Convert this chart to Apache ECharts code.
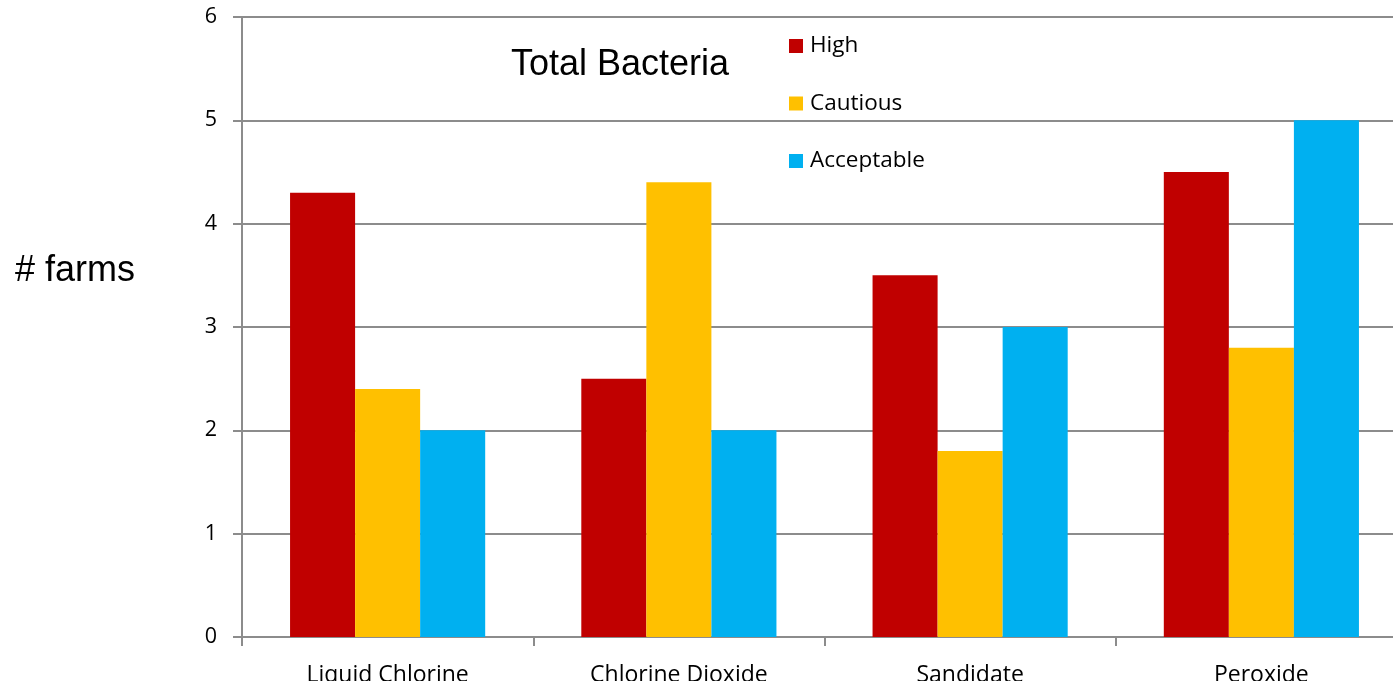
<!DOCTYPE html>
<html>
<head>
<meta charset="utf-8">
<script src="https://cdn.jsdelivr.net/npm/echarts@6/dist/echarts.min.js"></script>
<style>
  html, body { margin: 0; padding: 0; background: #fff; }
  #chart { width: 1393px; height: 681px; }
</style>
</head>
<body>
<div id="chart"></div>
<script>
// Sanitizer types and farm counts per risk level
const categories = ['Liquid Chlorine', 'Chlorine Dioxide', 'Sandidate', 'Peroxide'];
const highValues = [4.3, 2.5, 3.5, 4.5];
const cautiousValues = [2.4, 4.4, 1.8, 2.8];
const acceptableValues = [2.0, 2.0, 3.0, 5.0];
const yTicks = [0, 1, 2, 3, 4, 5, 6];

const labelFont = '"Open Sans", "Noto Sans", sans-serif';
const gridColor = '#8c8c8c';

const chart = echarts.init(document.getElementById('chart'), null, { renderer: 'canvas' });

chart.setOption({
  animation: false,
  backgroundColor: '#ffffff',
  title: {
    text: 'Total Bacteria',
    left: 511,
    top: 47,
    padding: 0,
    textStyle: {
      fontFamily: '"Liberation Sans", Arial, sans-serif',
      fontSize: 36,
      fontWeight: 'normal',
      color: '#000'
    }
  },
  legend: {
    orient: 'vertical',
    left: 789,
    top: 33,
    padding: 0,
    itemWidth: 14,
    itemHeight: 14,
    itemGap: 31.5,
    icon: 'rect',
    textStyle: {
      fontFamily: labelFont,
      fontSize: 22.5,
      color: '#000',
      lineHeight: 26,
      padding: [0, 0, 0, 2]
    },
    data: ['High', 'Cautious', 'Acceptable']
  },
  graphic: [{
    type: 'text',
    left: 15,
    top: 253,
    style: {
      text: '# farms',
      font: '36px "Liberation Sans", Arial, sans-serif',
      fill: '#000'
    }
  }],
  grid: {
    left: 242,
    top: 17,
    width: 1165,
    bottom: 44,
    containLabel: false,
    outerBoundsMode: 'none'
  },
  xAxis: {
    type: 'category',
    data: categories,
    axisLine: { lineStyle: { color: gridColor, width: 2 } },
    axisTick: { show: true, length: 9, lineStyle: { color: gridColor, width: 2 } },
    axisLabel: {
      margin: 27,
      fontFamily: labelFont,
      fontSize: 23,
      color: '#000'
    }
  },
  yAxis: {
    type: 'value',
    min: yTicks[0],
    max: yTicks[yTicks.length - 1],
    interval: 1,
    axisLine: { show: true, lineStyle: { color: gridColor, width: 2 } },
    axisTick: { show: true, length: 9, lineStyle: { color: gridColor, width: 2 } },
    splitLine: { show: true, lineStyle: { color: gridColor, width: 2 } },
    axisLabel: {
      margin: 25,
      fontFamily: labelFont,
      fontSize: 21.5,
      color: '#000'
    }
  },
  series: [
    {
      name: 'High',
      type: 'bar',
      data: highValues,
      itemStyle: { color: '#c00000' },
      barGap: '0%',
      barCategoryGap: '33%'
    },
    {
      name: 'Cautious',
      type: 'bar',
      data: cautiousValues,
      itemStyle: { color: '#ffc000' },
      barGap: '0%',
      barCategoryGap: '33%'
    },
    {
      name: 'Acceptable',
      type: 'bar',
      data: acceptableValues,
      itemStyle: { color: '#00b0f0' },
      barGap: '0%',
      barCategoryGap: '33%'
    }
  ]
});
</script>
</body>
</html>
